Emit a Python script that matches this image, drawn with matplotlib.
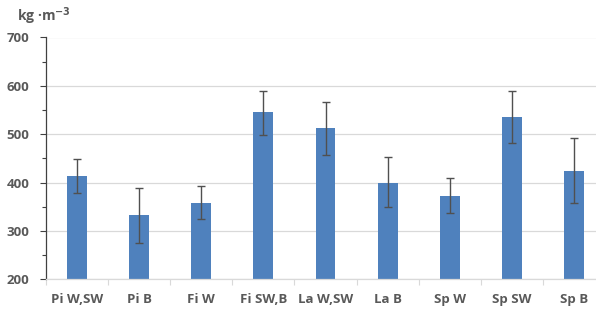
import numpy as np
import matplotlib
matplotlib.use("Agg")
import matplotlib.pyplot as plt
from matplotlib.ticker import MultipleLocator

### data ###
categories = ["Pi W,SW", "Pi B", "Fi W", "Fi SW,B", "La W,SW", "La B", "Sp W", "Sp SW", "Sp B"]
density = [413, 333, 357, 545, 513, 400, 372, 535, 424]
err_high = [449, 389, 392, 590, 567, 453, 409, 590, 492]
err_low = [378, 276, 324, 498, 457, 350, 338, 482, 357]

text_col = "#595959"
plt.rcParams["font.family"] = ["Open Sans", "DejaVu Sans"]

fig = plt.figure(figsize=(5.96, 3.11), dpi=100)
ax = fig.add_axes([46 / 596, 31.7 / 311, (605 - 46) / 596, (279.3 - 37.5) / 311])

x = np.arange(len(categories))
vals = np.array(density)
yerr = np.array([vals - np.array(err_low), np.array(err_high) - vals])

ax.bar(x, vals - 200, bottom=200, width=0.32, color="#4F81BD", zorder=2)
ax.errorbar(x, vals, yerr=yerr, fmt="none", ecolor="#505050", elinewidth=1.0,
            capsize=2.6, capthick=1.0, zorder=3)

ax.set_xlim(-0.5, len(categories) - 0.5)
ax.set_ylim(200, 700)
ax.yaxis.set_major_locator(MultipleLocator(100))
ax.yaxis.set_minor_locator(MultipleLocator(50))
ax.grid(axis="y", color="#D9D9D9", linewidth=0.9, zorder=0)
ax.set_axisbelow(True)

for s in ["top", "right"]:
    ax.spines[s].set_visible(False)
ax.spines["left"].set_color("#404040")
ax.spines["left"].set_linewidth(0.9)
ax.spines["bottom"].set_color("#D9D9D9")
ax.spines["bottom"].set_linewidth(0.9)

ax.tick_params(axis="y", which="major", length=4, width=0.8, color="#404040",
               labelsize=9.5, labelcolor=text_col, pad=8)
ax.tick_params(axis="y", which="minor", length=3, width=0.8, color="#404040")
for lbl in ax.get_yticklabels():
    lbl.set_fontweight("bold")

# category ticks sit between the bars
ax.set_xticks(x)
ax.set_xticklabels(categories, fontsize=9.5, fontweight="bold", color=text_col)
ax.tick_params(axis="x", which="major", length=0, pad=10)
ax.set_xticks(np.arange(-0.5, len(categories), 1.0), minor=True)
ax.tick_params(axis="x", which="minor", length=4, width=0.8, color="#D9D9D9")

fig.text(17 / 596, 1 - 16 / 311, "kg \u00b7m$^{\\mathbf{-3}}$", fontsize=10, fontweight="bold",
         color=text_col, ha="left", va="center")

fig.savefig("out.png", dpi=100)
